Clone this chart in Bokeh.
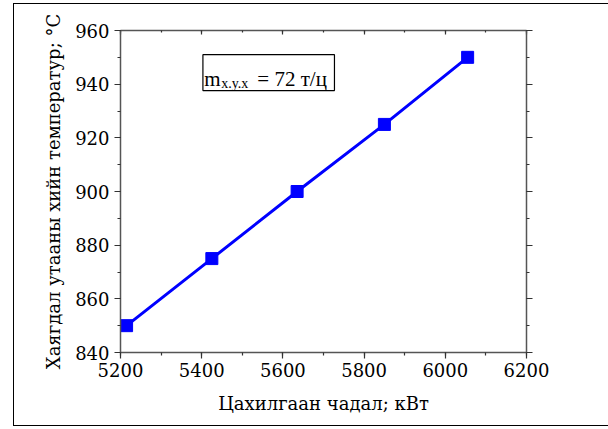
from bokeh.plotting import figure
from bokeh.models import LinearAxis, SingleIntervalTicker, Range1d, Label, BoxAnnotation, InlineStyleSheet
from bokeh.embed import file_html
from bokeh.resources import INLINE

power_kw = [5215, 5425, 5635, 5850, 6055]
temp_c = [850, 875, 900, 925, 950]

x_label = "Цахилгаан чадал; кВт"
y_label = "Хаягдал утааны хийн температур; °C"
note_main = "m"
note_sub = "x.y.x"
note_rest = "= 72 т/ц"

FONT = "'Liberation Serif', 'Times New Roman', serif"
AXIS_FONT = "DejaVu Serif"

p = figure(width=608, height=429, output_backend="svg", toolbar_location=None,
           x_range=Range1d(5200, 6200), y_range=Range1d(840, 960),
           min_border_left=120, min_border_right=82, min_border_top=30, min_border_bottom=77,
           x_axis_location=None, y_axis_location=None)
p.grid.visible = False
p.outline_line_color = None
p.background_fill_color = "white"
p.border_fill_color = "white"

xt = SingleIntervalTicker(interval=200, num_minor_ticks=2)
yt = SingleIntervalTicker(interval=20, num_minor_ticks=2)

def style(ax, labels, tin, tout):
    ax.axis_line_color = "#555555"
    ax.axis_line_width = 1.5
    ax.major_tick_line_color = "#333333"
    ax.minor_tick_line_color = "#333333"
    ax.major_tick_line_width = 1.2
    ax.minor_tick_line_width = 1.2
    ax.major_tick_in = tin
    ax.major_tick_out = tout
    ax.minor_tick_in = tin // 2
    ax.minor_tick_out = tout // 2
    if not labels:
        ax.major_label_text_font_size = "0px"
        ax.major_label_text_color = None
    else:
        ax.major_label_text_font = AXIS_FONT
        ax.major_label_text_font_size = "18px"
        ax.major_label_text_color = "black"
        ax.major_label_standoff = 5
    ax.axis_label_text_font = AXIS_FONT
    ax.axis_label_text_font_size = "18px"
    ax.axis_label_text_font_style = "normal"
    ax.axis_label_text_color = "black"

bottom = LinearAxis(ticker=xt, axis_label=x_label)
style(bottom, True, 0, 6)
bottom.major_label_standoff = 4
bottom.axis_label_standoff = 13
left = LinearAxis(ticker=yt, axis_label=y_label)
style(left, True, 0, 6)
left.axis_label_standoff = 8
top = LinearAxis(ticker=xt)
style(top, False, 4, 0)
right = LinearAxis(ticker=yt)
style(right, False, 0, 6)
p.add_layout(bottom, "below")
p.add_layout(left, "left")
p.add_layout(top, "above")
p.add_layout(right, "right")

p.line(power_kw, temp_c, line_color="#0000FF", line_width=3)
p.scatter(power_kw, temp_c, marker="square", size=12, fill_color="#0000FF", line_color="#0000FF")

p.add_layout(BoxAnnotation(left=5403, right=5727, bottom=937.6, top=951.0,
                           fill_color=None, fill_alpha=0, line_color="black", line_alpha=1.0,
                           line_width=1.2))
p.add_layout(Label(x=5406, y=941.9, text=note_main, text_font=FONT, text_font_size="21px",
                   text_color="black", text_baseline="alphabetic"))
p.add_layout(Label(x=5448, y=940.1, text=note_sub, text_font=FONT, text_font_size="14px",
                   text_color="black", text_baseline="alphabetic"))
p.add_layout(Label(x=5537, y=941.9, text=note_rest, text_font=FONT, text_font_size="21px",
                   text_color="black", text_baseline="alphabetic"))

p.stylesheets = [InlineStyleSheet(css="""
:host { position: relative; }
:host::after { content: ""; position: absolute; left: 13px; top: 3px; width: 640px; height: 423px;
  border: 1.5px solid black; pointer-events: none; box-sizing: border-box; }
""")]

open("out.html", "w").write(file_html(p, INLINE))
